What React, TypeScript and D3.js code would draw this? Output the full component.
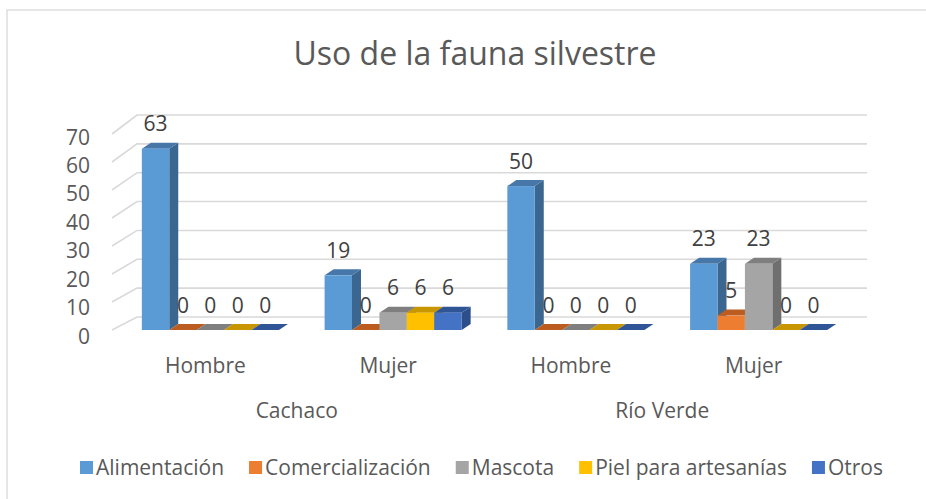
import React, { useEffect, useRef } from 'react';
import * as d3 from 'd3';

// Data
const categories = ['Hombre', 'Mujer', 'Hombre', 'Mujer'];
const groups = ['Cachaco', 'Río Verde'];
const seriesNames = ['Alimentación', 'Comercialización', 'Mascota', 'Piel para artesanías', 'Otros'];
const alimentacion = [63, 19, 50, 23];
const comercializacion = [0, 0, 0, 5];
const mascota = [0, 6, 0, 23];
const pielArtesanias = [0, 6, 0, 0];
const otros = [0, 6, 0, 0];
const yTicks = [0, 10, 20, 30, 40, 50, 60, 70];

const seriesValues = [alimentacion, comercializacion, mascota, pielArtesanias, otros];
// front / top / side shades
const colors = [
  { front: '#5b9bd5', top: '#4677a8', side: '#3b6690' },
  { front: '#ed7d31', top: '#bb5d21', side: '#ad5a22' },
  { front: '#a5a5a5', top: '#7f7f7f', side: '#6f6f6f' },
  { front: '#ffc000', top: '#c79600', side: '#bf9000' },
  { front: '#4472c4', top: '#2f5597', side: '#2c4f8c' },
];

const W = 926;
const H = 499;
const FONT = '"Open Sans", sans-serif';

const App = () => {
  const ref = useRef<SVGSVGElement>(null);

  useEffect(() => {
    const svg = d3.select(ref.current);
    svg.selectAll('*').remove();

    // chart frame
    svg.append('rect')
      .attr('x', 7).attr('y', 10)
      .attr('width', 960).attr('height', 520)
      .attr('fill', '#fff')
      .attr('stroke', '#d9d9d9').attr('stroke-width', 1.3);

    // title
    svg.append('text')
      .attr('x', 475).attr('y', 65)
      .attr('text-anchor', 'middle')
      .attr('font-family', FONT).attr('font-size', 32)
      .attr('fill', '#595959')
      .text('Uso de la fauna silvestre');

    // scales
    const x0 = d3.scaleBand<number>()
      .domain(categories.map((_, i) => i))
      .range([119, 850])
      .paddingInner(0.25)
      .paddingOuter(0.125);
    const x1 = d3.scaleBand<number>()
      .domain(seriesNames.map((_, j) => j))
      .range([0, x0.bandwidth()]);
    const yBar = d3.scaleLinear().domain([0, 70]).range([330, 128.5]);
    const yFront = d3.scaleLinear().domain([0, 70]).range([330, 134]);
    const yBack = d3.scaleLinear().domain([0, 70]).range([317, 115]);
    const yLabel = d3.scaleLinear().domain([0, 70]).range([336, 137]);

    const wallLeft = 112;
    const wallBack = 137;
    const wallRight = 867;
    const dx = 9;
    const dy = -6;

    // gridlines (side wall diagonal + back wall)
    const grid = svg.append('g')
      .attr('stroke', '#d9d9d9').attr('stroke-width', 1.6).attr('fill', 'none');
    yTicks.forEach(t => {
      grid.append('path')
        .attr('d', `M${wallLeft},${yFront(t)}L${wallBack},${yBack(t)}L${wallRight},${yBack(t)}`);
    });

    // y tick labels
    svg.append('g')
      .selectAll('text')
      .data(yTicks)
      .enter()
      .append('text')
      .attr('x', 90)
      .attr('y', d => yLabel(d))
      .attr('dy', '0.36em')
      .attr('text-anchor', 'end')
      .attr('font-family', FONT).attr('font-size', 21)
      .attr('fill', '#595959')
      .text(d => d);

    // bars
    const bars = svg.append('g');
    categories.forEach((_, i) => {
      seriesValues.forEach((vals, j) => {
        const v = vals[i];
        const c = colors[j];
        const x = (x0(i) as number) + (x1(j) as number);
        const w = x1.bandwidth();
        const yt = yBar(v);
        const yb = yBar(0);
        if (v > 0) {
          bars.append('polygon')
            .attr('points', [[x + w, yt], [x + w + dx, yt + dy], [x + w + dx, yb + dy], [x + w, yb]].join(' '))
            .attr('fill', c.side);
        }
        bars.append('polygon')
          .attr('points', [[x, yt], [x + dx, yt + dy], [x + w + dx, yt + dy], [x + w, yt]].join(' '))
          .attr('fill', c.top);
        if (v > 0) {
          bars.append('rect')
            .attr('x', x).attr('y', yt)
            .attr('width', w).attr('height', yb - yt)
            .attr('fill', c.front);
        }
      });
    });

    // data labels
    categories.forEach((_, i) => {
      seriesValues.forEach((vals, j) => {
        const v = vals[i];
        svg.append('text')
          .attr('x', (x0(i) as number) + (x1(j) as number) + x1.bandwidth() / 2)
          .attr('y', yBar(v) - 17.5)
          .attr('text-anchor', 'middle')
          .attr('font-family', FONT).attr('font-size', 21)
          .attr('fill', '#404040')
          .text(v);
      });
    });

    // category labels
    svg.append('g')
      .selectAll('text')
      .data(categories)
      .enter()
      .append('text')
      .attr('x', (_, i) => (x0(i) as number) + x0.bandwidth() / 2 - 5)
      .attr('y', 373)
      .attr('text-anchor', 'middle')
      .attr('font-family', FONT).attr('font-size', 21)
      .attr('fill', '#595959')
      .text(d => d);

    svg.append('g')
      .selectAll('text')
      .data(groups)
      .enter()
      .append('text')
      .attr('x', (_, g) => {
        const a = (x0(g * 2) as number) + x0.bandwidth() / 2;
        const b = (x0(g * 2 + 1) as number) + x0.bandwidth() / 2;
        return (a + b) / 2 - 5;
      })
      .attr('y', 418)
      .attr('text-anchor', 'middle')
      .attr('font-family', FONT).attr('font-size', 21)
      .attr('fill', '#595959')
      .text(d => d);

    // legend
    const legend = svg.append('g');
    const items = seriesNames.map((name, j) => {
      const g = legend.append('g');
      g.append('rect')
        .attr('x', 0).attr('y', 461)
        .attr('width', 13).attr('height', 13)
        .attr('fill', colors[j].front);
      const t = g.append('text')
        .attr('x', 16).attr('y', 474.5)
        .attr('font-family', FONT).attr('font-size', 21)
        .attr('fill', '#595959')
        .text(name);
      const tw = (t.node() as SVGTextElement).getComputedTextLength();
      return { g, width: 16 + tw };
    });
    const gap = 25;
    const total = d3.sum(items, d => d.width) + gap * (items.length - 1);
    let cx = 481.5 - total / 2;
    items.forEach(it => {
      it.g.attr('transform', `translate(${cx},0)`);
      cx += it.width + gap;
    });
  }, []);

  return (
    <svg
      ref={ref}
      width={W}
      height={H}
      style={{ position: 'absolute', left: 0, top: 0, background: '#fff' }}
    />
  );
};

export default App;
